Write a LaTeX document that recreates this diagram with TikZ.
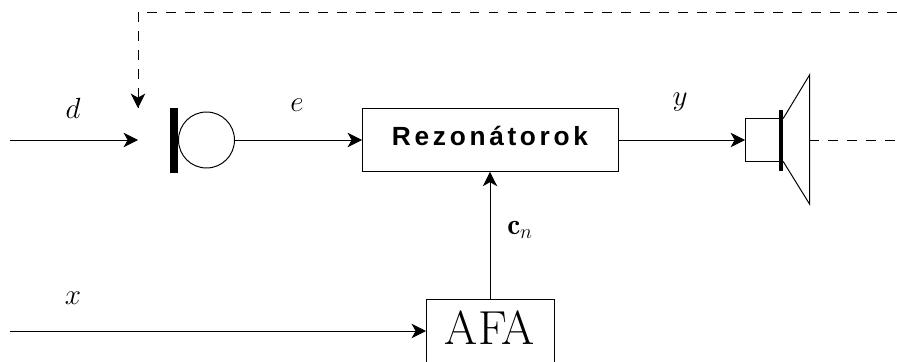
\documentclass[tikz,border=0pt]{standalone}
\usepackage{fontspec}
\usepackage{amsmath}
\usetikzlibrary{arrows.meta}
\newfontfamily\rezfont[LetterSpace=14]{Liberation Sans}
\tikzset{
  wire/.style={line width=.7pt},
  flow/.style={wire, -{Stealth[length=3.6mm,width=3.6mm,inset=1mm]}},
  feedback/.style={wire, dash pattern=on 7pt off 6.5pt},
  block/.style={draw, line width=.7pt, outer sep=0pt, inner sep=0pt},
  thickbar/.style={fill=black, outer sep=0pt, inner sep=0pt},
  sig/.style={font=\fontsize{20.74}{24}\selectfont}
}
\begin{document}
\begin{tikzpicture}
\useasboundingbox (0,0) rectangle (22.425,9.025);
\coordinate (dstart) at (0.25,5.525);
\coordinate (micin) at (3.45,5.525);
\coordinate (xstart) at (0.25,.75);
\coordinate (fbstart) at (22.425,8.725);
\coordinate (fbcorner) at (3.45,8.725);
\coordinate (fbend) at (3.45,6.325);
\coordinate (conemid) at (20.2375,5.525);
\coordinate (soundend) at (22.425,5.525);
\coordinate (conetop) at (20.2375,7.15);
\coordinate (conebot) at (20.2375,3.925);
\node[thickbar, minimum width=.2cm, minimum height=1.625cm] (micbar) at (4.35,5.525) {};
\node[block, circle, minimum size=1.4cm] (mic) at (5.1625,5.525) {};
\node[block, minimum width=6.4cm, minimum height=1.59cm, text depth=.225cm, font=\rezfont\bfseries\fontsize{18.7}{22}\selectfont] (rez) at (12.25,5.525) {Rezonátorok};
\node[block, minimum width=3.2cm, minimum height=1.575cm, text depth=.16cm, font=\fontsize{34}{38}\selectfont] (afa) at (12.25,.75) {AFA};
\node[block, minimum width=.875cm, minimum height=1.075cm] (spkbox) at (19.0625,5.525) {};
\node[thickbar, minimum width=.11cm, minimum height=1.525cm] (spkbar) at (19.525,5.525) {};
\draw[wire] (spkbar.east |- spkbox.north) -- (conetop) -- (conebot) -- (spkbar.east |- spkbox.south);
\draw[flow] (dstart) -- (micin);
\draw[flow] (mic) -- (rez);
\draw[flow] (rez) -- (spkbox);
\draw[flow] (afa) -- (rez);
\draw[flow] (xstart) -- (afa);
\draw[feedback] (conemid) -- (soundend);
\draw[feedback] (fbstart) -- (fbcorner) -- (fbend);
\draw[flow, dash pattern=on 0pt off 100pt] (fbcorner) -- (fbend);
\node[sig] (dlab) at (1.825,6.325) {$d$};
\node[sig] (elab) at (7.425,6.4) {$e$};
\node[sig] (ylab) at (17,6.475) {$y$};
\node[sig] (xlab) at (1.825,1.575) {$x$};
\node[sig] (clab) at (13,3.275) {$\mathbf{c}_n$};
\end{tikzpicture}
\end{document}
